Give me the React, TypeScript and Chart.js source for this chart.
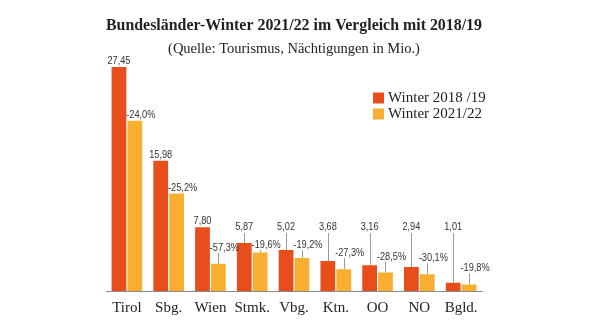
import React, { useEffect, useRef } from "react";
import { Chart, registerables } from "chart.js";

Chart.register(...registerables);

const categories = ["Tirol", "Sbg.", "Wien", "Stmk.", "Vbg.", "Ktn.", "OO", "NO", "Bgld."];
const winter1819 = [27.45, 15.98, 7.8, 5.87, 5.02, 3.68, 3.16, 2.94, 1.01];
const winter2122 = [20.86, 11.95, 3.33, 4.72, 4.06, 2.68, 2.26, 2.06, 0.81];
const changePct = [-24.0, -25.2, -57.3, -19.6, -19.2, -27.3, -28.5, -30.1, -19.8];
const seriesLabels = ["Winter 2018 /19", "Winter 2021/22"];
const titleText = "Bundesländer-Winter 2021/22 im Vergleich mit 2018/19";
const subtitleText = "(Quelle: Tourismus, Nächtigungen in Mio.)";

const ORANGE = "#E84E1C";
const YELLOW = "#F8AF31";
const SERIF = "'Liberation Serif', 'Times New Roman', serif";
const SANS = "'Liberation Sans', Arial, sans-serif";

const fmt = (v: number, d: number) => v.toFixed(d).replace(".", ",");

function narrowText(ctx: CanvasRenderingContext2D, text: string, x: number, y: number) {
  ctx.save();
  ctx.translate(x, y);
  ctx.scale(0.8, 1);
  ctx.fillText(text, 0, 0);
  ctx.restore();
}

const labelPlugin = {
  id: "valueLabels",
  afterDatasetsDraw(chart: any) {
    const ctx = chart.ctx;
    ctx.save();
    ctx.font = `11.5px ${SANS}`;
    ctx.fillStyle = "#333";
    ctx.strokeStyle = "#9a9a9a";
    ctx.lineWidth = 1;
    ctx.textAlign = "center";
    ctx.textBaseline = "alphabetic";
    const m0 = chart.getDatasetMeta(0);
    const m1 = chart.getDatasetMeta(1);
    m0.data.forEach((bar: any, i: number) => {
      const top = bar.y;
      let base = top - 3;
      if (base > 230) {
        base = 230;
        ctx.beginPath();
        ctx.moveTo(Math.round(bar.x) + 0.5, base + 3);
        ctx.lineTo(Math.round(bar.x) + 0.5, top);
        ctx.stroke();
      }
      narrowText(ctx, fmt(winter1819[i], 2), bar.x, base);
    });
    m1.data.forEach((bar: any, i: number) => {
      const top = bar.y;
      let base = top - 3;
      if (top > 230) {
        base = Math.max(top - 13, 248);
        ctx.beginPath();
        ctx.moveTo(Math.round(bar.x) + 0.5, base + 2);
        ctx.lineTo(Math.round(bar.x) + 0.5, top);
        ctx.stroke();
      }
      narrowText(ctx, `${fmt(changePct[i], 1)}%`, bar.x + 6, base);
    });
    ctx.restore();
  },
};

const legendPlugin = {
  id: "customLegend",
  afterDraw(chart: any) {
    const ctx = chart.ctx;
    ctx.save();
    ctx.font = `15px ${SERIF}`;
    ctx.textBaseline = "middle";
    ctx.textAlign = "left";
    chart.data.datasets.forEach((ds: any, i: number) => {
      const y = 98 + i * 16;
      ctx.fillStyle = ds.backgroundColor;
      ctx.fillRect(373, y - 5.5, 11, 11);
      ctx.fillStyle = "#222";
      ctx.fillText(ds.label, 388, y + 0.5);
    });
    ctx.restore();
  },
};

export default function App() {
  const ref = useRef<HTMLCanvasElement>(null);
  useEffect(() => {
    if (!ref.current) return;
    const chart = new Chart(ref.current, {
      type: "bar",
      data: {
        labels: categories,
        datasets: [
          { label: seriesLabels[0], data: winter1819, backgroundColor: ORANGE },
          { label: seriesLabels[1], data: winter2122, backgroundColor: YELLOW },
        ],
      },
      options: {
        animation: false,
        responsive: false,
        events: [],
        layout: { padding: { left: 106, right: 131, top: 0, bottom: 5 } },
        datasets: { bar: { categoryPercentage: 0.76, barPercentage: 0.93 } },
        plugins: {
          legend: { display: false },
          tooltip: { enabled: false },
          title: {
            display: true,
            text: titleText,
            color: "#222",
            font: { family: SERIF, size: 16.5, weight: "bold" },
            padding: { top: 15.5, bottom: 3 },
          },
          subtitle: {
            display: true,
            text: subtitleText,
            color: "#222",
            font: { family: SERIF, size: 14.5 },
            padding: { top: 2, bottom: 0 },
          },
        },
        scales: {
          x: {
            grid: { display: false, drawTicks: false },
            border: { display: true, color: "#8a8a8a", width: 1 },
            ticks: { color: "#222", font: { family: SERIF, size: 15 }, padding: 8 },
          },
          y: { display: false, min: 0, max: 28.6 },
        },
      },
      plugins: [labelPlugin, legendPlugin],
    });
    return () => chart.destroy();
  }, []);
  return (
    <div style={{ position: "absolute", left: 0, top: 0, width: 613, height: 330, background: "#fff" }}>
      <canvas ref={ref} width={613} height={330} />
    </div>
  );
}
